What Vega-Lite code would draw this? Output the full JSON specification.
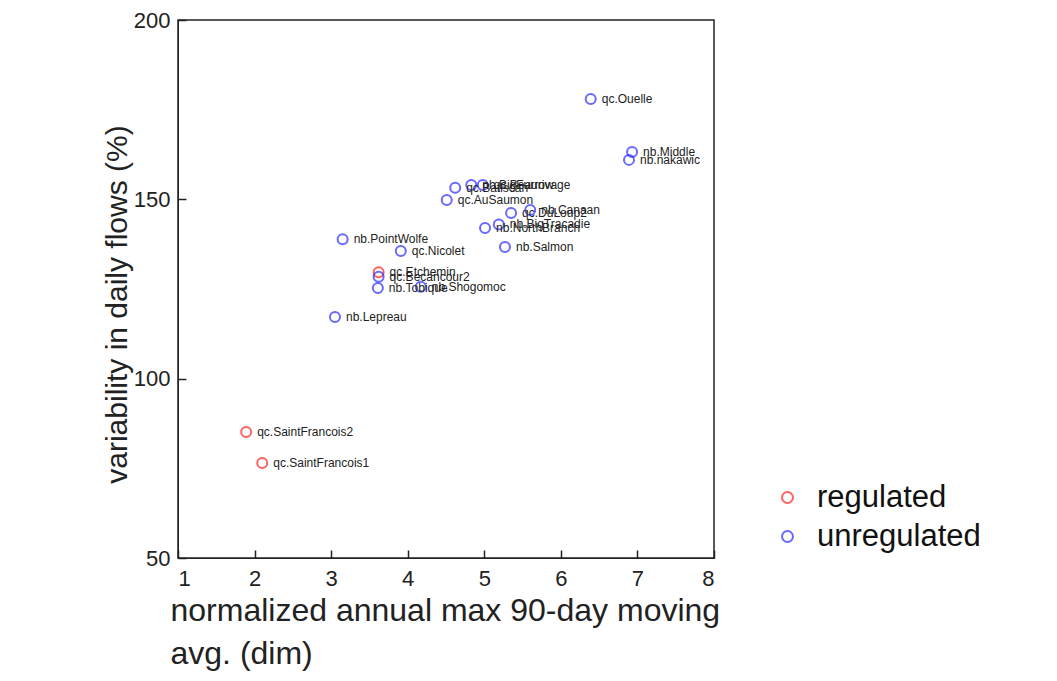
{
  "$schema": "https://vega.github.io/schema/vega-lite/v6.json",
  "autosize": {"type": "none"},
  "width": 536,
  "height": 538,
  "padding": {"left": 178, "top": 20, "right": 343, "bottom": 123},
  "background": "white",
  "config": {
    "font": "Liberation Sans",
    "view": {"stroke": "#222", "strokeWidth": 1.5},
    "axis": {"grid": false, "domainColor": "#222", "tickColor": "#222", "labelColor": "#222", "titleColor": "#222", "labelFont": "Liberation Sans", "titleFont": "Liberation Sans", "titleFontWeight": "normal", "tickWidth": 1.5}
  },
  "data": {"values": [
    {"name": "qc.Ouelle", "x": 6.39, "y": 178.0, "type": "unregulated"},
    {"name": "nb.Middle", "x": 6.93, "y": 163.2, "type": "unregulated"},
    {"name": "nb.nakawic", "x": 6.89, "y": 161.0, "type": "unregulated"},
    {"name": "qc.Batiscan", "x": 4.62, "y": 153.2, "type": "unregulated"},
    {"name": "nb.BigFurrow", "x": 4.83, "y": 154.0, "type": "unregulated"},
    {"name": "qc.Beaurivage", "x": 4.98, "y": 154.0, "type": "unregulated"},
    {"name": "qc.AuSaumon", "x": 4.51, "y": 149.8, "type": "unregulated"},
    {"name": "qc.DuLoup2", "x": 5.35, "y": 146.2, "type": "unregulated"},
    {"name": "nb.Canaan", "x": 5.6, "y": 147.0, "type": "unregulated"},
    {"name": "nb.BigTracadie", "x": 5.19, "y": 143.0, "type": "unregulated"},
    {"name": "nb.NorthBranch", "x": 5.01, "y": 142.0, "type": "unregulated"},
    {"name": "nb.Salmon", "x": 5.27, "y": 136.7, "type": "unregulated"},
    {"name": "nb.PointWolfe", "x": 3.15, "y": 138.9, "type": "unregulated"},
    {"name": "qc.Nicolet", "x": 3.91, "y": 135.6, "type": "unregulated"},
    {"name": "qc.Etchemin", "x": 3.62, "y": 129.7, "type": "regulated"},
    {"name": "qc.Becancour2", "x": 3.62, "y": 128.4, "type": "unregulated"},
    {"name": "nb.Tobique", "x": 3.61, "y": 125.3, "type": "unregulated"},
    {"name": "nb.Shogomoc", "x": 4.17, "y": 125.6, "type": "unregulated"},
    {"name": "nb.Lepreau", "x": 3.05, "y": 117.2, "type": "unregulated"},
    {"name": "qc.SaintFrancois2", "x": 1.89, "y": 85.1, "type": "regulated"},
    {"name": "qc.SaintFrancois1", "x": 2.1, "y": 76.5, "type": "regulated"}
  ]},
  "encoding": {
    "x": {"field": "x", "type": "quantitative", "scale": {"domain": [1, 8], "nice": false, "zero": false},
      "axis": {"values": [1,2,3,4,5,6,7,8], "tickSize": -8, "labelFontSize": 22, "labelPadding": 18,
        "title": ["normalized annual max 90-day moving", "avg. (dim)"], "titleFontSize": 32, "titleAnchor": "start", "titleAlign": "left", "titleX": -8, "titlePadding": 6, "titleLineHeight": 43}},
    "y": {"field": "y", "type": "quantitative", "scale": {"domain": [50, 200], "nice": false, "zero": false},
      "axis": {"values": [50, 100, 150, 200], "tickSize": -8, "labelFontSize": 22, "labelPadding": 16,
        "title": "variability in daily flows (%)", "titleFontSize": 30, "titlePadding": 1, "titleY": 284}}
  },
  "layer": [
    {
      "mark": {"type": "point", "shape": "circle", "filled": false, "size": 100, "strokeWidth": 2},
      "encoding": {
        "color": {"field": "type", "type": "nominal",
          "scale": {"domain": ["regulated", "unregulated"], "range": ["#ff2020", "#2a2aff"]},
          "legend": {"title": null, "orient": "none", "legendX": 594, "legendY": 462, "labelFontSize": 31, "labelLimit": 400, "labelColor": "#111", "symbolSize": 120, "symbolStrokeWidth": 2, "rowPadding": 7, "labelOffset": 14}}
      }
    },
    {
      "mark": {"type": "text", "align": "left", "baseline": "middle", "dx": 11, "fontSize": 12, "color": "#222"},
      "encoding": {"text": {"field": "name"}}
    }
  ]
}
